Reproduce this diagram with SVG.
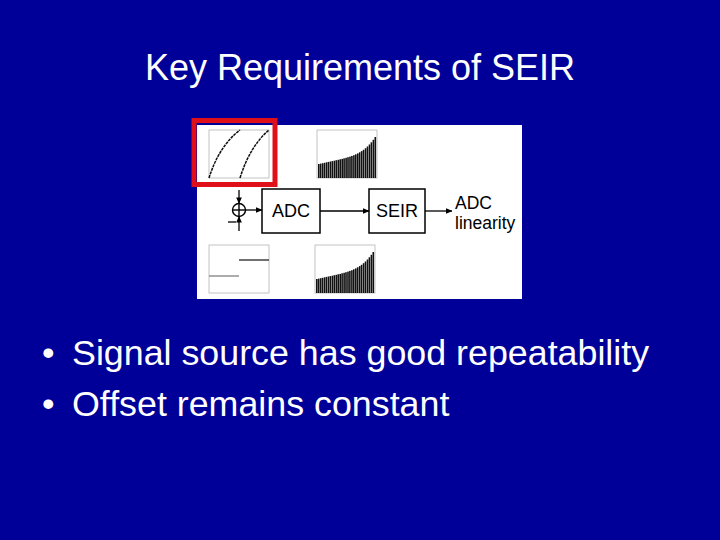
<svg xmlns="http://www.w3.org/2000/svg" width="720" height="540" viewBox="0 0 720 540">
<defs>
<style>
.title{font-family:"Liberation Sans",Arial,sans-serif;font-size:36px;fill:#ffffff}
.bul{font-family:"Liberation Sans",Arial,sans-serif;font-size:35.8px;fill:#ffffff}
.lbl{font-family:"Liberation Sans",Arial,sans-serif;font-size:17.5px;fill:#000000}
.box{fill:#ffffff;stroke:#000000;stroke-width:1.5}
.conn{stroke:#000000;stroke-width:1.3;fill:none}
.frame{fill:none;stroke:#aaaaaa;stroke-width:0.7}
.bar{fill:#111111}
</style>
<marker id="ah" viewBox="0 0 8 8" refX="7.5" refY="4" markerWidth="5" markerHeight="5" orient="auto">
<path d="M0,0.5 L8,4 L0,7.5 Z" fill="#000"/>
</marker>
<g id="hist">
<rect class="frame" x="317" y="130" width="60" height="48"/>
<rect class="bar" x="318.0" y="164.0" width="1.6" height="14.0"/>
<rect class="bar" x="319.9" y="163.6" width="1.6" height="14.4"/>
<rect class="bar" x="321.9" y="163.2" width="1.6" height="14.8"/>
<rect class="bar" x="323.8" y="162.8" width="1.6" height="15.2"/>
<rect class="bar" x="325.8" y="162.3" width="1.6" height="15.7"/>
<rect class="bar" x="327.7" y="161.9" width="1.6" height="16.1"/>
<rect class="bar" x="329.7" y="161.5" width="1.6" height="16.5"/>
<rect class="bar" x="331.6" y="161.1" width="1.6" height="16.9"/>
<rect class="bar" x="333.6" y="160.7" width="1.6" height="17.3"/>
<rect class="bar" x="335.5" y="160.2" width="1.6" height="17.8"/>
<rect class="bar" x="337.5" y="159.8" width="1.6" height="18.2"/>
<rect class="bar" x="339.4" y="159.3" width="1.6" height="18.7"/>
<rect class="bar" x="341.4" y="158.9" width="1.6" height="19.1"/>
<rect class="bar" x="343.3" y="158.3" width="1.6" height="19.7"/>
<rect class="bar" x="345.3" y="157.8" width="1.6" height="20.2"/>
<rect class="bar" x="347.2" y="157.2" width="1.6" height="20.8"/>
<rect class="bar" x="349.2" y="156.6" width="1.6" height="21.4"/>
<rect class="bar" x="351.1" y="155.9" width="1.6" height="22.1"/>
<rect class="bar" x="353.1" y="155.2" width="1.6" height="22.8"/>
<rect class="bar" x="355.0" y="154.3" width="1.6" height="23.7"/>
<rect class="bar" x="357.0" y="153.4" width="1.6" height="24.6"/>
<rect class="bar" x="358.9" y="152.3" width="1.6" height="25.7"/>
<rect class="bar" x="360.9" y="151.1" width="1.6" height="26.9"/>
<rect class="bar" x="362.8" y="149.8" width="1.6" height="28.2"/>
<rect class="bar" x="364.8" y="148.2" width="1.6" height="29.8"/>
<rect class="bar" x="366.7" y="146.5" width="1.6" height="31.5"/>
<rect class="bar" x="368.7" y="144.5" width="1.6" height="33.5"/>
<rect class="bar" x="370.6" y="142.3" width="1.6" height="35.7"/>
<rect class="bar" x="372.6" y="139.8" width="1.6" height="38.2"/>
<rect class="bar" x="374.5" y="137.0" width="1.6" height="41.0"/>
</g>
</defs>
<rect x="0" y="0" width="720" height="540" fill="#000099"/>
<text class="title" x="360" y="80" text-anchor="middle">Key Requirements of SEIR</text>

<g id="figure">
<rect x="197" y="125" width="325" height="174" fill="#ffffff"/>
<g id="plot-transfer">
<rect class="frame" x="209" y="130" width="60" height="48"/>
<path d="M209,178 Q219,146 240,130" fill="none" stroke="#111" stroke-width="1.5" stroke-dasharray="3 0.8"/>
<path d="M240,178 Q250,146 269,130" fill="none" stroke="#111" stroke-width="1.5" stroke-dasharray="3 0.8"/>
</g>
<g id="highlight">
<rect x="194" y="120.5" width="81" height="64" fill="none" stroke="#e0101a" stroke-width="5"/>
</g>
<g id="hist-top"><use href="#hist"/></g>
<g id="plot-step">
<rect class="frame" x="209" y="245" width="60" height="48"/>
<line x1="209" y1="276" x2="239" y2="276" stroke="#777" stroke-width="1.2"/>
<line x1="239" y1="260" x2="269" y2="260" stroke="#333" stroke-width="1.4"/>
</g>
<g id="hist-bottom"><use href="#hist" transform="translate(-2,115)"/></g>

<g id="sum">
<circle cx="239" cy="210" r="6.5" fill="none" stroke="#000" stroke-width="1.4"/>
<line x1="232.5" y1="210" x2="245.5" y2="210" stroke="#000" stroke-width="1.4"/>
<line x1="239" y1="203.5" x2="239" y2="216.5" stroke="#000" stroke-width="1.4"/>
<line x1="228" y1="222" x2="236" y2="222" stroke="#000" stroke-width="1.3"/>
</g>
<g id="adc">
<rect class="box" x="262" y="189" width="58" height="44"/>
<text class="lbl" x="291" y="217" text-anchor="middle" style="font-size:18px">ADC</text>
</g>
<g id="seir">
<rect class="box" x="369" y="189" width="56" height="44"/>
<text class="lbl" x="397" y="217" text-anchor="middle" style="font-size:18px">SEIR</text>
</g>
<g id="output">
<text class="lbl" x="455" y="209">ADC</text>
<text class="lbl" x="455" y="229">linearity</text>
</g>
<g id="connectors">
<line class="conn" x1="239" y1="190" x2="239" y2="203.5" marker-end="url(#ah)"/>
<line class="conn" x1="239" y1="231" x2="239" y2="216.5" marker-end="url(#ah)"/>
<line class="conn" x1="245.5" y1="210" x2="262" y2="210" marker-end="url(#ah)"/>
<line class="conn" x1="320" y1="211" x2="369" y2="211" marker-end="url(#ah)"/>
<line class="conn" x1="425" y1="211" x2="452" y2="211" marker-end="url(#ah)"/>
</g>
</g>

<text class="bul" x="42" y="365">•</text>
<text class="bul" x="72" y="365">Signal source has good repeatability</text>
<text class="bul" x="42" y="416">•</text>
<text class="bul" x="72" y="416">Offset remains constant</text>
</svg>
